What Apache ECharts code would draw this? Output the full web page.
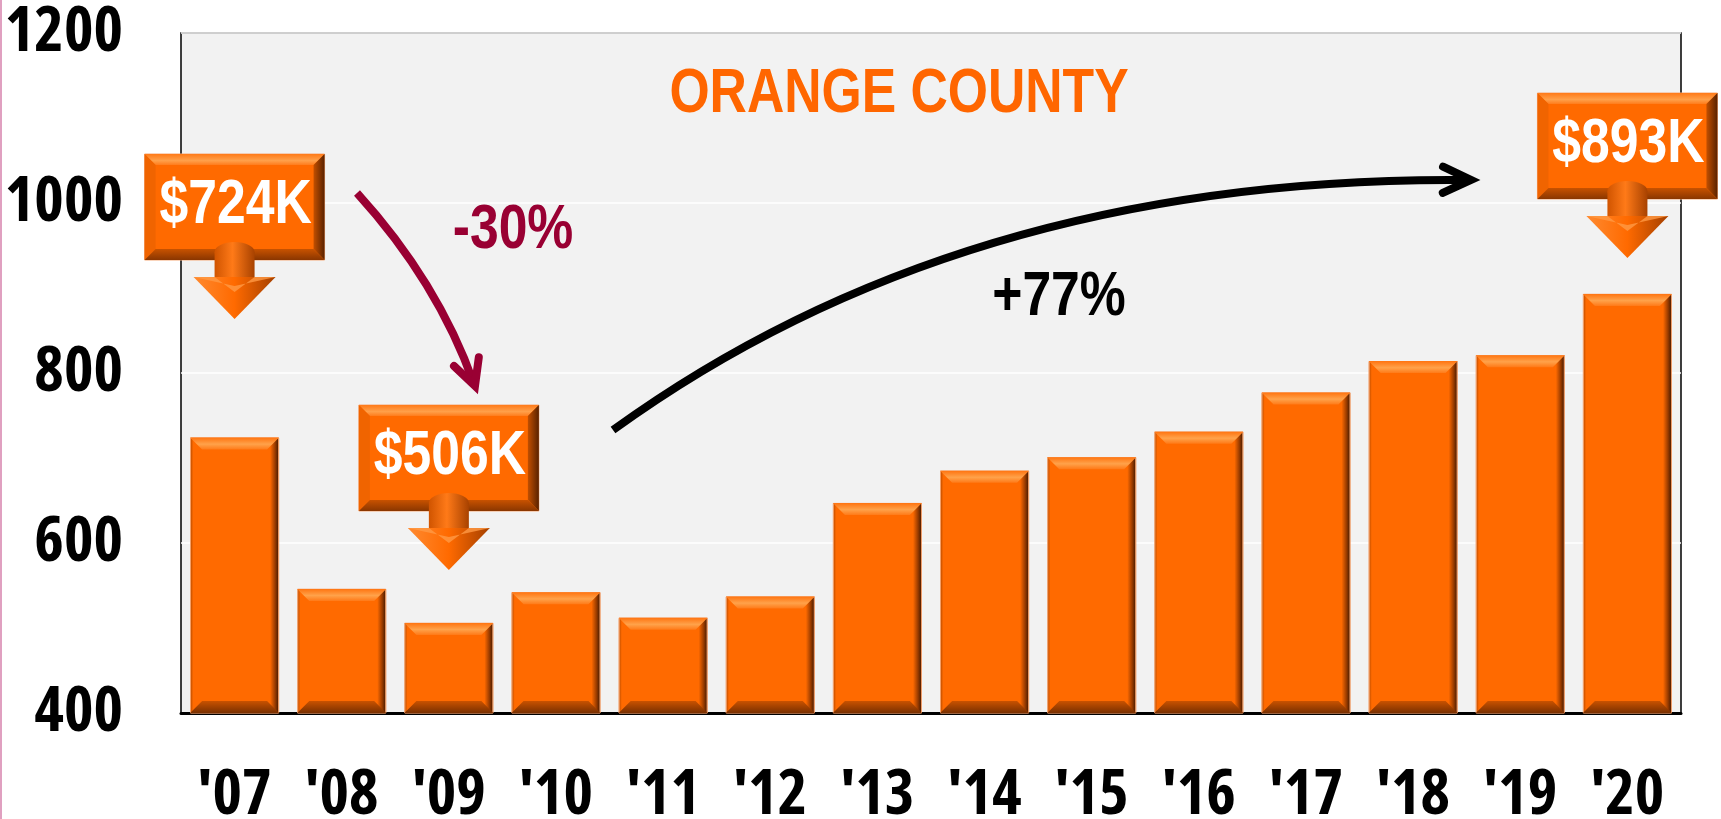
<!DOCTYPE html>
<html>
<head>
<meta charset="utf-8">
<title>Orange County</title>
<script src="https://cdn.jsdelivr.net/npm/echarts/dist/echarts.min.js"></script>
<style>
  html, body { margin: 0; padding: 0; background: #fff; }
  #chart { width: 1721px; height: 819px; }
</style>
</head>
<body>
<div id="chart"></div>
<script>
// median price, $K
var years = ["'07", "'08", "'09", "'10", "'11", "'12", "'13", "'14", "'15", "'16", "'17", "'18", "'19", "'20"];
var prices = [724, 546, 506, 542, 512, 537, 647, 685, 701, 731, 777, 814, 821, 893];
var yMin = 400, yMax = 1200, yStep = 200;

// callouts
var calloutYears = ["'07", "'09", "'20"];
var calloutTexts = ["$724K", "$506K", "$893K"];
var changeTexts = ["-30%", "+77%"];
var titleText = "ORANGE COUNTY";

// no Arial Narrow here: axes use condensed Open Sans, the rest is Liberation Sans squeezed
var AXIS_FONT = '"Open Sans", sans-serif';
var TEXT_FONT = '"Liberation Sans", sans-serif';
var NARROW = 0.82;
var ORANGE = "#ff6a00";

var chart = echarts.init(document.getElementById("chart"));

var barFill = new echarts.graphic.LinearGradient(0, 0, 1, 0, [
  { offset: 0, color: "#b04800" },
  { offset: 0.035, color: ORANGE },
  { offset: 0.9, color: ORANGE },
  { offset: 0.955, color: "#9a3c00" },
  { offset: 1, color: "#3a1500" }
]);

chart.setOption({
  animation: false,
  grid: {
    left: 181, right: 40, top: 33, bottom: 106,
    show: true, backgroundColor: "#f2f2f2",
    borderColor: "#000", borderWidth: 1.5,
    outerBoundsMode: "none"
  },
  xAxis: {
    type: "category",
    data: years,
    axisTick: { show: false },
    axisLine: { lineStyle: { color: "#000", width: 3 } },
    axisLabel: {
      interval: 0, color: "#000", fontSize: 63, fontWeight: "bold condensed",
      fontFamily: AXIS_FONT, margin: 52
    }
  },
  yAxis: {
    type: "value",
    min: yMin, max: yMax, interval: yStep,
    axisLine: { show: false },
    axisTick: { show: false },
    splitLine: { lineStyle: { color: "#ffffff", width: 1.5 } },
    axisLabel: {
      color: "#000", fontSize: 63, fontWeight: "bold condensed", fontFamily: AXIS_FONT, margin: 58,
      formatter: function (v) { return String(v); }
    }
  },
  series: [
    {
      type: "bar",
      data: prices,
      barWidth: "83%",
      itemStyle: { color: barFill, borderColor: "#f3a06a", borderWidth: 0.8 },
      z: 2
    },
    {
      // bevel edges on top of each bar
      type: "custom",
      silent: true,
      z: 3,
      data: prices.map(function (v, i) { return [i, v]; }),
      renderItem: function (params, api) {
        var top = api.coord([api.value(0), api.value(1)]);
        var base = api.coord([api.value(0), yMin]);
        var bw = api.size([1, 0])[0] * 0.83;
        var x0 = top[0] - bw / 2, x1 = top[0] + bw / 2, y0 = top[1], y1 = base[1];
        var b = 12;
        return {
          type: "group",
          children: [
            {
              type: "polygon",
              shape: { points: [[x0, y0], [x1, y0], [x1 - b, y0 + b], [x0 + b, y0 + b]] },
              style: {
                fill: new echarts.graphic.LinearGradient(0, 0, 0, 1, [
                  { offset: 0, color: "#ff7410" },
                  { offset: 0.55, color: "#ffa24a" },
                  { offset: 1, color: "#ff7a18" }
                ])
              }
            },
            {
              type: "polygon",
              shape: { points: [[x0, y1], [x1, y1], [x1 - b, y1 - b], [x0 + b, y1 - b]] },
              style: {
                fill: new echarts.graphic.LinearGradient(0, 0, 0, 1, [
                  { offset: 0, color: "#c95200" },
                  { offset: 1, color: "#7a3000" }
                ])
              }
            }
          ]
        };
      }
    }
  ]
});

function narrowText(text, x, y, color, z, shadow) {
  var style = {
    text: text, x: 0, y: 0, align: "center", verticalAlign: "middle",
    font: "bold 63px " + TEXT_FONT, fill: color
  };
  if (shadow) {
    style.shadowColor = "rgba(60,20,0,0.8)";
    style.shadowOffsetX = 2;
    style.shadowOffsetY = 2;
    style.shadowBlur = 2;
  }
  return { type: "text", x: x, y: y, scaleX: NARROW, z: z, style: style };
}

function callout(cx, top, text) {
  var w = 180, h = 106, b = 11;
  var l = cx - w / 2, r = cx + w / 2, bt = top + h;
  var els = [];
  els.push({ type: "rect", shape: { x: l, y: top, width: w, height: h }, style: { fill: ORANGE, stroke: "#f5a978", lineWidth: 1 }, z: 10 });
  els.push({ type: "polygon", shape: { points: [[l, top], [r, top], [r - b, top + b], [l + b, top + b]] },
    style: { fill: new echarts.graphic.LinearGradient(0, 0, 0, 1, [{ offset: 0, color: "#ff7a18" }, { offset: 0.6, color: "#ffa04a" }, { offset: 1, color: "#ff7c1c" }]) }, z: 11 });
  els.push({ type: "polygon", shape: { points: [[l, top], [l + b, top + b], [l + b, bt - b], [l, bt]] }, style: { fill: "#f06400" }, z: 11 });
  els.push({ type: "polygon", shape: { points: [[r, top], [r - b, top + b], [r - b, bt - b], [r, bt]] },
    style: { fill: new echarts.graphic.LinearGradient(0, 0, 1, 0, [{ offset: 0, color: "#c24f00" }, { offset: 1, color: "#5a2200" }]) }, z: 11 });
  els.push({ type: "polygon", shape: { points: [[l, bt], [r, bt], [r - b, bt - b], [l + b, bt - b]] },
    style: { fill: new echarts.graphic.LinearGradient(0, 0, 0, 1, [{ offset: 0, color: "#c85200" }, { offset: 1, color: "#8a3600" }]) }, z: 11 });
  // arrow under the box
  var shaftFill = new echarts.graphic.LinearGradient(0, 0, 1, 0, [{ offset: 0, color: "#d05400" }, { offset: 0.45, color: "#ff7a18" }, { offset: 1, color: "#a84200" }]);
  els.push({ type: "rect", shape: { x: cx - 20, y: bt - 8, width: 40, height: 27 }, style: { fill: shaftFill }, z: 12 });
  els.push({ type: "ellipse", shape: { cx: cx, cy: bt - 8, rx: 20, ry: 10 }, style: { fill: shaftFill }, z: 12 });
  els.push({ type: "polygon", shape: { points: [[cx - 41, bt + 17], [cx + 41, bt + 17], [cx, bt + 59]] },
    style: { fill: new echarts.graphic.LinearGradient(0, 0, 1, 0, [{ offset: 0, color: "#ff8a30" }, { offset: 0.5, color: ORANGE }, { offset: 1, color: "#a44000" }]) }, z: 12 });
  els.push({ type: "polygon", shape: { points: [[cx - 41, bt + 17], [cx - 20, bt + 17], [cx, bt + 32], [cx + 20, bt + 17], [cx + 41, bt + 17], [cx, bt + 26]] },
    style: { fill: "#ff9a45", opacity: 0.8 }, z: 13 });
  els.push(narrowText(text, cx + 1, top + 52, "#fff", 14, true));
  return els;
}

function chevron(tip, dir, len, ang, color) {
  var a = Math.atan2(-dir[1], -dir[0]);
  var d = ang * Math.PI / 180;
  var p1 = [tip[0] + len * Math.cos(a + d), tip[1] + len * Math.sin(a + d)];
  var p2 = [tip[0] + len * Math.cos(a - d), tip[1] + len * Math.sin(a - d)];
  return { type: "polyline", z: 9, shape: { points: [p1, tip, p2] },
    style: { stroke: color, lineWidth: 8, lineCap: "round", lineJoin: "miter", fill: null } };
}

function xOf(cat) {
  return chart.convertToPixel({ xAxisIndex: 0 }, cat);
}

var g = [];
g.push({ type: "rect", shape: { x: 0, y: 0, width: 2, height: 819 }, style: { fill: "#e0a0c0" }, z: 1 });
g.push(narrowText(titleText, 899, 95, "#ff6600", 8));
g.push(narrowText(changeTexts[0], 513, 231, "#990033", 8));
g.push(narrowText(changeTexts[1], 1059, 298, "#000", 8));

// -30% arrow
g.push({ type: "bezierCurve", z: 9, shape: { x1: 357, y1: 193, cpx1: 438, cpy1: 282, x2: 474, y2: 384 },
  style: { stroke: "#990033", lineWidth: 8, fill: null } });
g.push(chevron([475, 386], [12, 34], 29, 27, "#990033"));
// +77% arrow
g.push({ type: "bezierCurve", z: 9, shape: { x1: 613, y1: 430, cpx1: 965, cpy1: 175, x2: 1469, y2: 180 },
  style: { stroke: "#000", lineWidth: 8, fill: null } });
g.push(chevron([1471, 180], [505, 5], 31, 25, "#000"));

var tops = [154, 405, 93];
for (var i = 0; i < calloutYears.length; i++) {
  g = g.concat(callout(xOf(calloutYears[i]), tops[i], calloutTexts[i]));
}

chart.setOption({ graphic: g });
</script>
</body>
</html>
